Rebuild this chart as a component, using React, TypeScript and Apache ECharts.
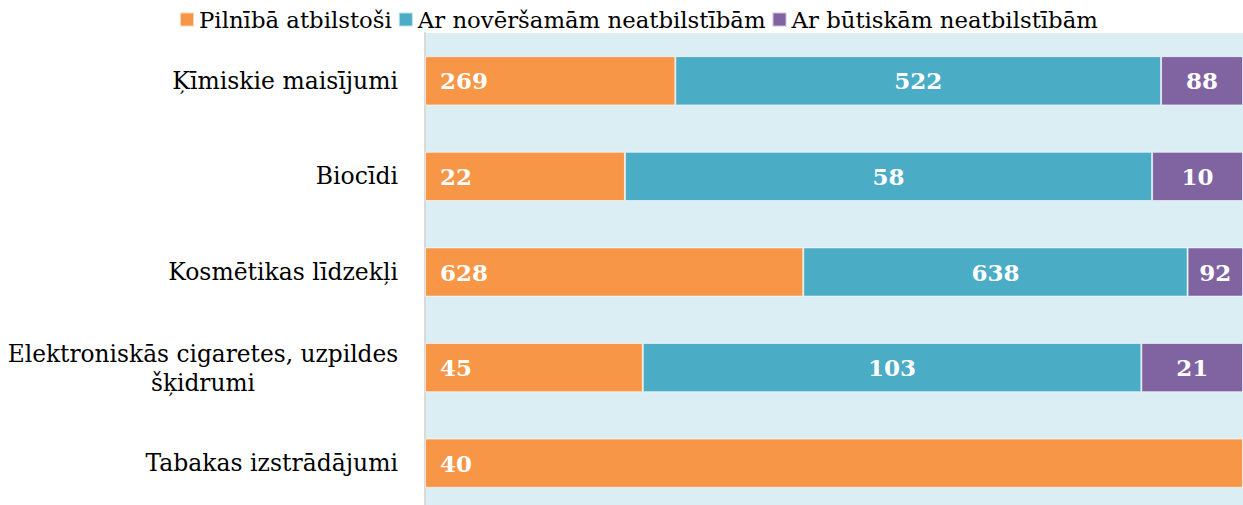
import React, { useEffect, useRef } from "react";
import * as echarts from "echarts";

const categories = [
  "Ķīmiskie maisījumi",
  "Biocīdi",
  "Kosmētikas līdzekļi",
  "Elektroniskās cigaretes, uzpildes šķidrumi",
  "Tabakas izstrādājumi",
];
const seriesNames = [
  "Pilnībā atbilstoši",
  "Ar novēršamām neatbilstībām",
  "Ar būtiskām neatbilstībām",
];
const full = [269, 22, 628, 45, 40];
const minor = [522, 58, 638, 103, 0];
const major = [88, 10, 92, 21, 0];
const colors = ["#F79646", "#4BACC6", "#8064A2"];

const FONT = "DejaVu Serif";

export default function App() {
  const ref = useRef<HTMLDivElement>(null);
  useEffect(() => {
    const chart = echarts.init(ref.current!, null, { renderer: "svg" });
    const raw = [full, minor, major];
    const totals = categories.map((_, i) => full[i] + minor[i] + major[i]);
    const series = raw.map((vals, si) => ({
      name: seriesNames[si],
      type: "bar",
      stack: "total",
      barCategoryGap: "48.5%",
      itemStyle: { color: colors[si], borderColor: "rgba(255,255,255,0.6)", borderWidth: 1 },
      label: {
        show: true,
        position: si === 0 ? "insideLeft" : "inside",
        distance: 15,
        color: "#fff",
        fontFamily: FONT,
        fontWeight: "bold",
        fontSize: 23,
        formatter: (p: any) => (raw[si][p.dataIndex] ? String(raw[si][p.dataIndex]) : ""),
      },
      data: vals.map((v, i) => (v ? (v / totals[i]) * 100 : null)),
    }));
    chart.setOption({
      animation: false,
      textStyle: { fontFamily: FONT },
      legend: {
        top: 3,
        left: 174,
        itemWidth: 14,
        itemHeight: 14,
        itemGap: 6,
        icon: "rect",
        textStyle: { fontFamily: FONT, fontSize: 22.8, color: "#000" },
        data: seriesNames,
      },
      grid: { left: 425, right: 0, top: 33, bottom: 0, show: true, backgroundColor: "#DAEEF3", borderWidth: 0, containLabel: false },
      xAxis: { type: "value", min: 0, max: 100, show: false },
      yAxis: {
        type: "category",
        inverse: true,
        data: categories,
        axisTick: { show: false },
        axisLine: { show: true, lineStyle: { color: "#D9D9D9", width: 2 } },
        axisLabel: {
          margin: 27,
          color: "#000",
          fontFamily: FONT,
          fontSize: 23.5,
          formatter: (v: string) =>
            v.startsWith("Elektroniskās")
              ? "{c|Elektroniskās cigaretes, uzpildes}\n{c|šķidrumi}"
              : v,
          rich: {
            c: { width: 390, align: "center", fontFamily: FONT, fontSize: 23.3, color: "#000", lineHeight: 29 },
          },
        },
      },
      series,
    });
    return () => chart.dispose();
  }, []);
  return (
    <div style={{ position: "absolute", left: 0, top: 0, width: 1243, height: 505, overflow: "hidden" }}>
      <div ref={ref} style={{ width: 1243, height: 511 }} />
    </div>
  );
}
